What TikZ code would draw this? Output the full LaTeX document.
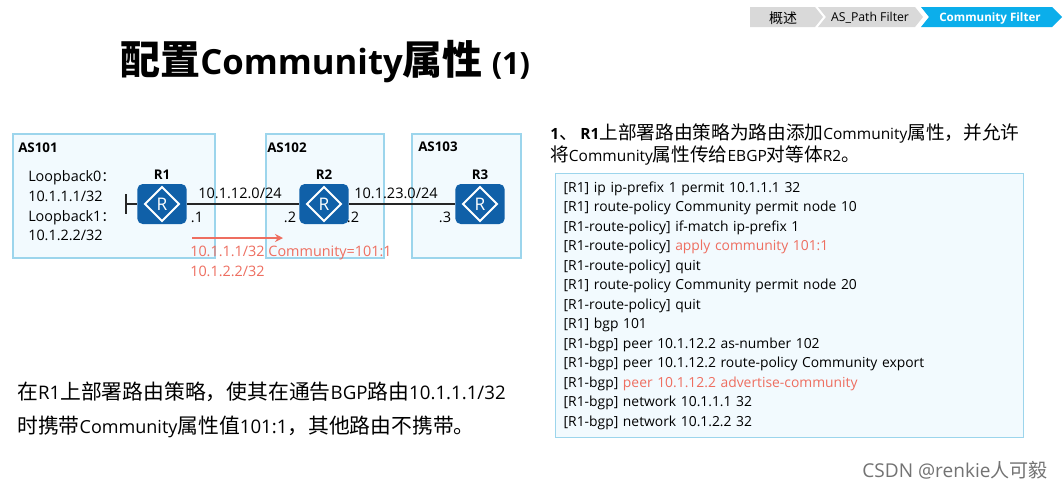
\documentclass[tikz,border=0pt]{standalone}
\usepackage{fontspec}
\setmainfont{Open Sans}
\newfontfamily\cjk{Noto Sans CJK SC}
\usepackage{tikz}
\usetikzlibrary{arrows.meta,positioning,shapes.geometric}

\definecolor{boxfill}{HTML}{F2FAFE}
\definecolor{boxline}{HTML}{9CD5EC}
\definecolor{routerblue}{HTML}{1060A8}
\definecolor{notered}{HTML}{EE6E60}
\definecolor{tabgray}{HTML}{D9D9D9}
\definecolor{tabblue}{HTML}{0BAEEB}

\newcommand{\zh}[2][15.6]{{\cjk\fontsize{#1}{#1}\selectfont #2}}
\newcommand{\lat}[1]{{\fontsize{14}{14}\selectfont #1}}
\newcommand{\pxfont}[2]{\fontsize{#1}{#2}\selectfont}

\begin{document}
\begin{tikzpicture}[x=0.75pt,y=-0.75pt,
  asbox/.style={draw=boxline,fill=boxfill,line width=1pt},
  router/.style={rectangle,fill=routerblue,rounded corners=4pt,minimum width=37pt,
                 minimum height=30pt,inner sep=0pt},
  link/.style={line width=1pt,draw=black!85},
  astext/.style={anchor=west,inner sep=0pt,font=\pxfont{10}{12}\bfseries},
  addr/.style={inner sep=0pt,font=\pxfont{10.9}{12}},
  tabtext/.style={inner sep=0pt,font=\pxfont{9.2}{11}},
  arrow/.style={-{Stealth[length=6pt,width=6pt]},line width=2.2pt,notered}]

\useasboundingbox (0,0) rectangle (1064,490);
\fill[white] (0,0) rectangle (1064,490);

% breadcrumb
\fill[tabgray] (750,7)--(815,7)--(823,17)--(815,27)--(750,27)--cycle;
\fill[tabgray] (818,7)--(915,7)--(923,17)--(915,27)--(818,27)--(826,17)--cycle;
\fill[tabblue] (921,7)--(1052,7)--(1062,17)--(1052,27)--(921,27)--(929,17)--cycle;
\node[tabtext] (tab1) at (783,18) {\zh[10.5]{概述}};
\node[tabtext] (tab2) at (870,18) {AS\_Path Filter};
\node[tabtext,text=white,font=\pxfont{8.7}{11}\bfseries] (tab3) at (990,18) {Community Filter};

% title
\node[anchor=west,inner sep=0pt,font=\pxfont{26}{36}\bfseries] (title) at (120,62)
{\zh[30]{配置}Community\zh[30]{属性} {\fontsize{23}{23}\selectfont (1)}};

% AS boxes
\draw[asbox] (13,134) rectangle (215,258);
\draw[asbox] (266,134) rectangle (384,258);
\draw[asbox] (412,134) rectangle (521,258);
\node[astext] (as101) at (18,148) {AS101};
\node[astext] (as102) at (267,148) {AS102};
\node[astext] (as103) at (418,147) {AS103};

% routers
\node[router] (r1) at (162,204) {};
\node[router] (r2) at (324,204) {};
\node[router] (r3) at (480,204) {};
\foreach \rname in {r1,r2,r3}{
  \node[diamond,draw=white,line width=1.4pt,minimum width=26pt,minimum height=26pt,
        inner sep=0pt,text=white,font=\pxfont{13}{14}] (\rname d) at (\rname) {R};
}
\node[above=3pt of r1,inner sep=0pt,font=\pxfont{10}{12}\bfseries] (r1t) {R1};
\node[above=3pt of r2,inner sep=0pt,font=\pxfont{10}{12}\bfseries] (r2t) {R2};
\node[above=3pt of r3,inner sep=0pt,font=\pxfont{10}{12}\bfseries] (r3t) {R3};

% links
\coordinate (stub) at (126,204);
\draw[link] (r1)--(r2);
\draw[link] (r2)--(r3);
\draw[link] (stub)--(r1);
\draw[line width=1.2pt,draw=black!85] (126,194)--(126,214);

% loopbacks
\node[anchor=west,align=left,inner sep=0pt,font=\pxfont{10.8}{14.8}] (loop) at (28,206)
{Loopback0\zh[10.5]{：}\\10.1.1.1/32\\Loopback1\zh[10.5]{：}\\10.1.2.2/32};

% link labels
\node[addr] (net12) at (240,193) {10.1.12.0/24};
\node[addr] (net23) at (396,193) {10.1.23.0/24};
\node[addr] (ip1) at (197,217) {.1};
\node[addr] (ip2a) at (290,217) {.2};
\node[addr] (ip2b) at (353,217) {.2};
\node[addr] (ip3) at (445,217) {.3};

% route note
\coordinate (arrS) at (192,238);
\coordinate (arrE) at (283,238);
\draw[arrow] (arrS)--(arrE);
\node[anchor=west,inner sep=0pt,text=notered,font=\pxfont{10.8}{12}] (route1) at (190,253)
{10.1.1.1/32 Community=101:1};
\node[anchor=west,inner sep=0pt,text=notered,font=\pxfont{10.8}{12}] (route2) at (190,271)
{10.1.2.2/32};

% left text
\node[anchor=west,inner sep=0pt,font=\pxfont{13.5}{18}] (intro1) at (17,392)
{\zh{在}\lat{R1}\zh{上部署路由策略，使其在通告}\lat{BGP}\zh{路由}\lat{10.1.1.1/32}};
\node[anchor=west,inner sep=0pt,font=\pxfont{13.5}{18}] (intro2) at (17,427)
{\zh{时携带}Community\zh{属性值}\lat{101:1}\zh{，其他路由不携带。}};

% right heading
\node[anchor=west,inner sep=0pt,font=\pxfont{11.6}{16}] (head1) at (550,133)
{\textbf{1}\zh[14]{、}\,\textbf{R1}\zh[14]{上部署路由策略为路由添加}Community\zh[14]{属性，并允许}};
\node[anchor=west,inner sep=0pt,font=\pxfont{11.6}{16}] (head2) at (550,155)
{\zh[14]{将}Community\zh[14]{属性传给}EBGP\zh[14]{对等体}R2\zh[14]{。}};

% configuration
\node[draw=boxline,fill=boxfill,line width=1pt,anchor=north west,minimum width=351pt,
      minimum height=198pt,text width=339pt,align=left,inner xsep=6pt,
      font=\pxfont{10.4}{14.6}] (cfg) at (555,173)
{{[R1]} ip ip-prefix 1 permit 10.1.1.1 32\\
{[R1]} route-policy Community permit node 10\\
{[R1-route-policy]} if-match ip-prefix 1\\
{[R1-route-policy]} \textcolor{notered}{apply community 101:1}\\
{[R1-route-policy]} quit\\
{[R1]} route-policy Community permit node 20\\
{[R1-route-policy]} quit\\
{[R1]} bgp 101\\
{[R1-bgp]} peer 10.1.12.2 as-number 102\\
{[R1-bgp]} peer 10.1.12.2 route-policy Community export\\
{[R1-bgp]} \textcolor{notered}{peer 10.1.12.2 advertise-community}\\
{[R1-bgp]} network 10.1.1.1 32\\
{[R1-bgp]} network 10.1.2.2 32};

% watermark
\node[anchor=east,inner sep=0pt,text=black!55,font=\pxfont{14.3}{16}] (mark) at (1048,470)
{CSDN @renkie\zh[14.3]{人可毅}};
\end{tikzpicture}
\end{document}
